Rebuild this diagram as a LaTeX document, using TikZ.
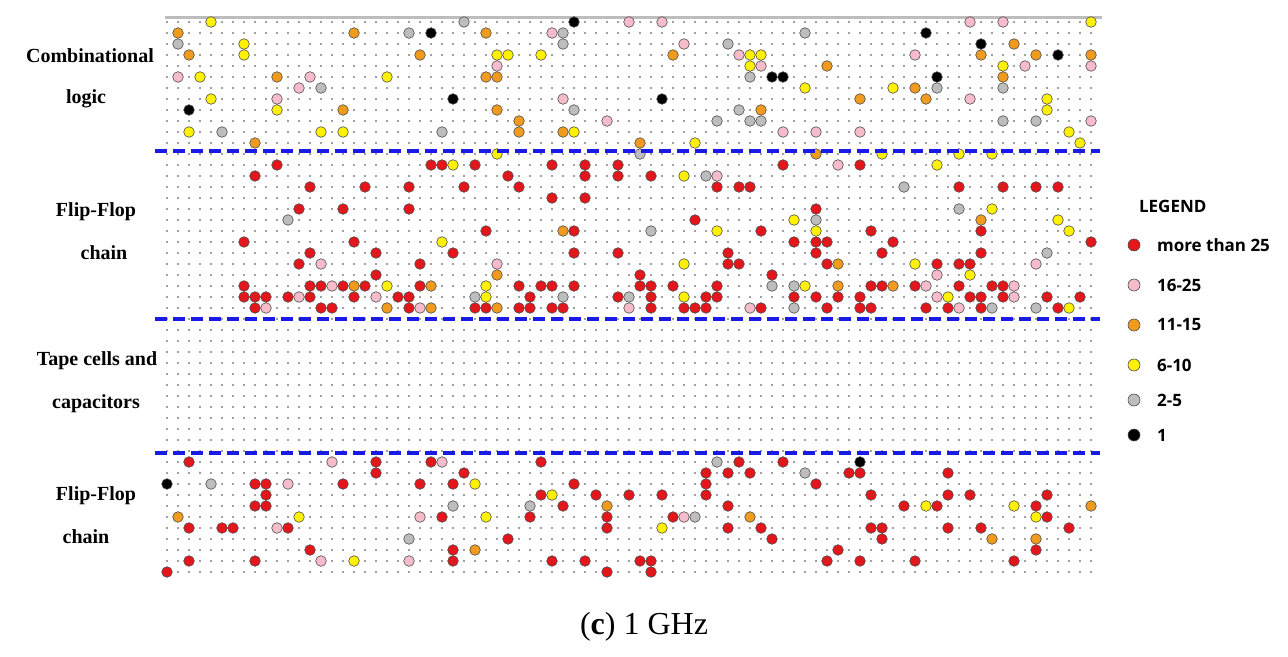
\documentclass[tikz,border=0pt]{standalone}
\usepackage{fontspec}
\setmainfont{Liberation Serif}
\newfontfamily\legfont{Open Sans}
\definecolor{redc}{HTML}{E3161B}
\definecolor{pinkc}{HTML}{F6BCCB}
\definecolor{orangec}{HTML}{F09A1E}
\definecolor{yellowc}{HTML}{FFF200}
\definecolor{grayc}{HTML}{BDBDBD}
\definecolor{blackc}{HTML}{000000}
\definecolor{dashblue}{HTML}{1A1AE6}
\tikzset{
  gdot/.style={fill=black!75,draw=none},
  cell/.style={draw=black!70,line width=0.3pt},
  sep/.style={dashblue,line width=1.6pt,dash pattern=on 6pt off 3pt},
  lab/.style={font=\bfseries\fontsize{10}{12}\selectfont,anchor=center},
  leg/.style={font=\legfont\fontsize{8.5}{10}\selectfont\bfseries,anchor=west},
}
\newcommand\mkcell[3]{\fill[#3,cell] ({167+11*#1},{22+11*#2}) circle (5.3);}
\begin{document}
\begin{tikzpicture}[x=0.5pt,y=-0.5pt]
\useasboundingbox (0,0) rectangle (1288,657);
\fill[white] (0,0) rectangle (1288,657);
\draw[grayc,line width=1.5pt] (165,18) -- (1102,18);
% grid dots
\foreach \j in {0,...,50}{\foreach \i in {0,...,84}{\fill[gdot] ({167+11*\i},{22+11*\j}) circle (0.9);}}
\pgfmathsetseed{11}
% combinational logic
\foreach \j in {0,...,12}{\foreach \i in {0,...,84}{
  \pgfmathsetmacro\r{rnd}
  \ifdim\r pt<0.085pt
    \pgfmathrandominteger\c{0}{10}
    \pgfmathparse{{"pinkc","orangec","yellowc","grayc","grayc","yellowc","orangec","pinkc","blackc","yellowc","pinkc"}[\c]}
    \edef\col{\pgfmathresult}
    \mkcell{\i}{\j}{\col}
  \fi}}
% upper flip-flop chain
\foreach \j in {13,...,26}{\foreach \i in {7,...,84}{
  \pgfmathsetmacro\r{rnd}
  \pgfmathsetmacro\th{\j>23 ? 0.45 : 0.12}
  \ifdim\r pt<\th pt
    \pgfmathrandominteger\c{0}{12}
    \pgfmathparse{{"pinkc","orangec","yellowc","grayc","redc","redc","redc","redc","redc","redc","redc","redc","redc"}[\c]}
    \edef\col{\pgfmathresult}
    \mkcell{\i}{\j}{\col}
  \fi}}
% lower flip-flop chain
\foreach \j in {40,...,50}{\foreach \i in {0,...,84}{
  \pgfmathsetmacro\r{rnd}
  \ifdim\r pt<0.13pt
    \pgfmathrandominteger\c{0}{12}
    \pgfmathparse{{"pinkc","orangec","yellowc","grayc","redc","redc","redc","redc","redc","redc","redc","redc","redc"}[\c]}
    \edef\col{\pgfmathresult}
    \mkcell{\i}{\j}{\col}
  \fi}}
\mkcell{0}{42}{blackc}
\mkcell{63}{40}{blackc}
% separators
\coordinate (s1a) at (155,151); \coordinate (s1b) at (1100,151);
\coordinate (s2a) at (155,319); \coordinate (s2b) at (1100,319);
\coordinate (s3a) at (155,453); \coordinate (s3b) at (1100,453);
\draw[sep] (s1a) -- (s1b);
\draw[sep] (s2a) -- (s2b);
\draw[sep] (s3a) -- (s3b);
% labels
\node[lab] (l1) at (90,56) {Combinational};
\node[lab] (l2) at (86,99) {logic};
\node[lab] (l3) at (96,212) {Flip-Flop};
\node[lab] (l4) at (104,253) {chain};
\node[lab] (l5) at (97,361) {Tape cells and};
\node[lab] (l6) at (96,404) {capacitors};
\node[lab] (l7) at (96,496) {Flip-Flop};
\node[lab] (l8) at (86,537) {chain};
% legend
\node[leg] (lg) at (1132,206) {LEGEND};
\foreach \y/\c/\t in {245/redc/more than 25,285/pinkc/16-25,325/orangec/11-15,365/yellowc/6-10,400/grayc/2-5,435/blackc/1}{
  \fill[\c,cell] (1134,\y) circle (6);
  \node[leg] at (1150,\y) {\t};
}
\node[font=\fontsize{16}{18}\selectfont] (cap) at (644,627) {(\textbf{c}) 1 GHz};
\end{tikzpicture}
\end{document}
